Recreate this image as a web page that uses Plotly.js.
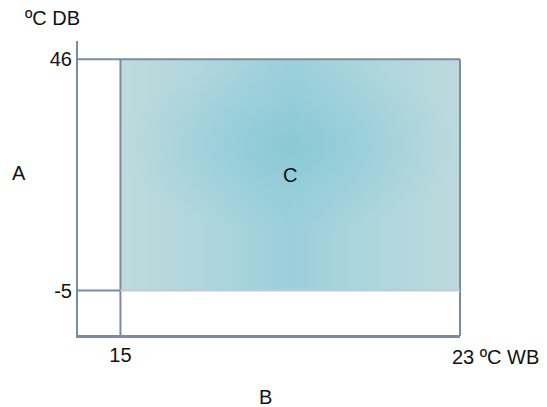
<!DOCTYPE html>
<html>
<head>
<meta charset="utf-8">
<script src="https://cdn.plot.ly/plotly-3.0.1.min.js"></script>
<style>html,body{margin:0;padding:0;background:#fff;}#chart{width:547px;height:407px;}</style>
</head>
<body>
<div id="chart"></div>
<script>
// Operating range (wet bulb x, dry bulb y)
const wbRange = [15, 23];          // ºC WB
const dbRange = [-5, 46];          // ºC DB
const xTickVals = [15];
const xTickText = ["15"];
const yTickVals = [-5, 46];
const yTickText = ["-5", "46"];
const xEndLabel = "23 ºC WB";
const yUnitLabel = "ºC DB";
const xTitle = "B";
const yTitle = "A";
const regionLabel = "C";

const lineCol = "#7d8ba2";
const font = {family: "Liberation Sans, Arial, sans-serif", size: 20, color: "#111"};

const rectX = [wbRange[0], wbRange[1], wbRange[1], wbRange[0], wbRange[0]];
const rectY = [dbRange[0], dbRange[0], dbRange[1], dbRange[1], dbRange[0]];
const midX = (wbRange[0] + wbRange[1]) / 2;
const midY = (dbRange[0] + dbRange[1]) / 2;

const traces = [
  {
    type: "scatter", mode: "lines", x: rectX, y: rectY, fill: "toself",
    line: {width: 0}, hoverinfo: "skip", showlegend: false,
    fillgradient: {type: "horizontal",
      colorscale: [[0, "#bfdbdd"], [0.3, "#aad5dc"], [0.5, "#9ccfda"], [0.7, "#aad5dc"], [1, "#bddadc"]]}
  },
  {
    type: "scatter", mode: "lines",
    x: rectX, y: [8, 8, dbRange[1], dbRange[1], 8], fill: "toself",
    line: {width: 0}, hoverinfo: "skip", showlegend: false,
    fillgradient: {type: "radial",
      colorscale: [[0, "rgba(132,199,214,0.75)"], [0.5, "rgba(132,199,214,0.3)"], [1, "rgba(132,199,214,0)"]]}
  }
];

const yTopFrac = (dbRange[1] + 15) / 65;
const shapes = [
  // top edge at 46
  {type: "line", xref: "paper", yref: "y", x0: 0, x1: 1, y0: dbRange[1], y1: dbRange[1], line: {color: lineCol, width: 2}},
  // right edge at 23 (plot right edge)
  {type: "line", xref: "paper", yref: "paper", x0: 1, x1: 1, y0: 0, y1: yTopFrac, line: {color: lineCol, width: 2}},
  // bottom frame line
  {type: "line", xref: "paper", yref: "paper", x0: 0, x1: 1, y0: 0, y1: 0, line: {color: lineCol, width: 2}},
  // vertical at 15
  {type: "line", xref: "x", yref: "paper", x0: wbRange[0], x1: wbRange[0], y0: 0, y1: yTopFrac, line: {color: lineCol, width: 2}},
  // horizontal at -5 (left part)
  {type: "line", xref: "paper", yref: "y", x0: 0, x1: 1 / 9, y0: dbRange[0], y1: dbRange[0], line: {color: lineCol, width: 2}},
  // horizontal at -5 (inside, light)
  {type: "line", xref: "x", yref: "y", x0: wbRange[0], x1: wbRange[1], y0: dbRange[0], y1: dbRange[0], line: {color: "#c3cad5", width: 2}}
];

const layout = {
  width: 547, height: 407,
  margin: {l: 78, r: 87, t: 41, b: 71},
  paper_bgcolor: "#fff", plot_bgcolor: "#fff",
  font: font,
  showlegend: false,
  xaxis: {range: [14, 23], showgrid: false, zeroline: false, showline: true, linecolor: lineCol, linewidth: 2,
    tickvals: xTickVals, ticktext: xTickText, ticks: "", tickfont: font, fixedrange: true},
  yaxis: {range: [-15, 50], showgrid: false, zeroline: false, showline: true, linecolor: lineCol, linewidth: 2,
    tickvals: yTickVals, ticktext: yTickText, ticks: "", tickfont: font, fixedrange: true},
  shapes: shapes,
  annotations: [
    {text: yUnitLabel, xref: "paper", yref: "paper", x: -0.068, y: 1.078, showarrow: false, font: font, xanchor: "center", yanchor: "middle"},
    {text: xEndLabel, xref: "x", yref: "paper", x: wbRange[1], xshift: -10, y: -0.071, showarrow: false, font: font, xanchor: "left", yanchor: "middle"},
    {text: yTitle, xref: "paper", yref: "paper", x: -0.1545, y: 0.5525, showarrow: false, font: font, xanchor: "center", yanchor: "middle"},
    {text: xTitle, xref: "paper", yref: "paper", x: 0.492, y: -0.207, showarrow: false, font: font, xanchor: "center", yanchor: "middle"},
    {text: regionLabel, xref: "x", yref: "y", x: midX, y: midY, showarrow: false, font: font, xanchor: "center", yanchor: "middle"}
  ]
};

Plotly.newPlot("chart", traces, layout, {displayModeBar: false, staticPlot: true});
</script>
</body>
</html>
